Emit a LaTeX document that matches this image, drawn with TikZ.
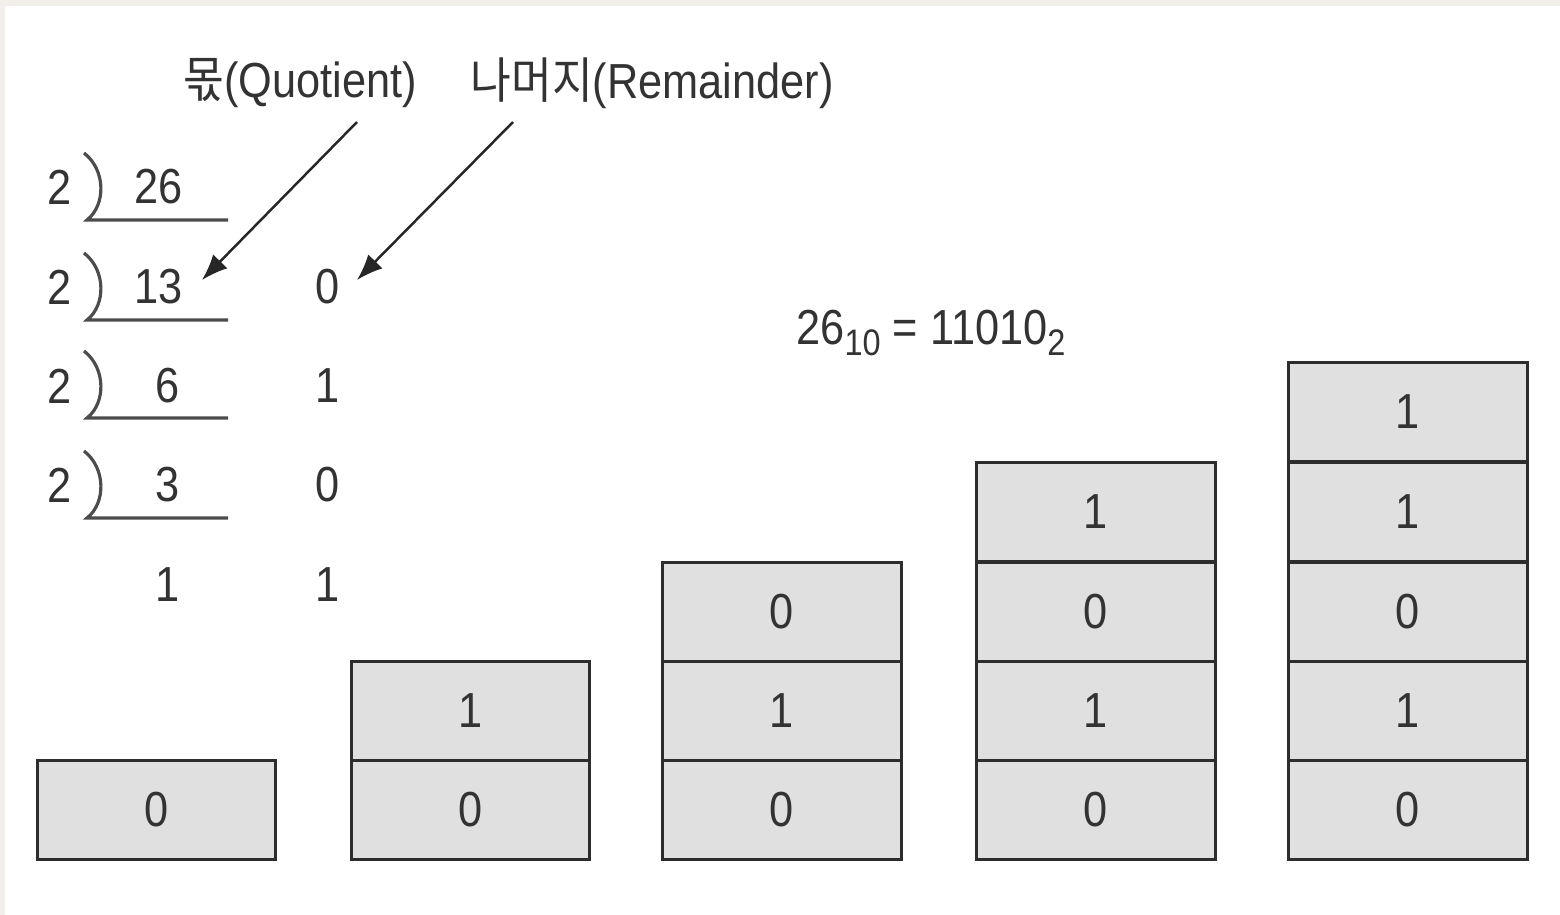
\documentclass[tikz,border=0pt]{standalone}
\usepackage{fontspec}
\setmainfont[FakeStretch=0.88]{Liberation Sans}
\newfontfamily\kr[FakeStretch=0.9]{Noto Sans CJK KR}
\usetikzlibrary{arrows.meta}
\definecolor{cellgray}{RGB}{224,224,224}
\definecolor{edgeline}{RGB}{45,45,45}
\definecolor{paper}{RGB}{242,238,233}
\newcommand{\lowidx}[1]{\raisebox{-0.45ex}{\fontsize{10.5}{12}\selectfont #1}}
\tikzset{
  txt/.style={font=\fontsize{14}{16}\selectfont, inner sep=0pt, text=black!80},
  cell/.style={draw=edgeline, fill=cellgray, line width=0.8pt, minimum width=2.385cm,
    minimum height=0.995cm, inner sep=0pt, font=\fontsize{14}{16}\selectfont, text=black!80},
  pointer/.style={-{Latex[length=0.26cm, width=0.2cm]}, line width=0.7pt, black!85},
  bar/.style={line width=0.9pt, black!70}
}
\begin{document}
\begin{tikzpicture}[x=0.01cm, y=-0.01cm]
  \fill[paper] (0,0) rectangle (1560,915);
  \fill[white] (5,6) rectangle (1560,915);
  \useasboundingbox (0,0) rectangle (1560,915);
  % headings
  \node[txt] (quot) at (300,83) {{\kr 몫}(Quotient)};
  \node[txt] (rem) at (652,83) {{\kr 나머지}(Remainder)};
  % division steps
  \node[txt] (d1) at (60,187) {2};
  \node[txt] (d2) at (60,287) {2};
  \node[txt] (d3) at (60,386) {2};
  \node[txt] (d4) at (60,485) {2};
  \node[txt] (q0) at (159,187) {26};
  \node[txt] (q1) at (159,287) {13};
  \node[txt] (q2) at (168,386) {6};
  \node[txt] (q3) at (168,485) {3};
  \node[txt] (q4) at (168,585) {1};
  \node[txt] (r1) at (328,287) {0};
  \node[txt] (r2) at (328,386) {1};
  \node[txt] (r3) at (328,485) {0};
  \node[txt] (r4) at (328,585) {1};
  \begin{scope}[bar]
    \draw (84,153) .. controls (106,170) and (106,205) .. (87,220) -- (228,220);
    \draw (84,253) .. controls (106,270) and (106,305) .. (87,320) -- (228,320);
    \draw (84,351) .. controls (106,368) and (106,403) .. (87,418) -- (228,418);
    \draw (84,451) .. controls (106,468) and (106,503) .. (87,518) -- (228,518);
  \end{scope}
  % arrows
  \coordinate (qa) at (357,122);
  \coordinate (ra) at (513,122);
  \coordinate (qt) at (202,280);
  \coordinate (rt) at (357,280);
  \draw[pointer] (qa) -- (qt);
  \draw[pointer] (ra) -- (rt);
  % result
  \node[txt] (res) at (931,333) {26\lowidx{10} = 11010\lowidx{2}};
  % stacks
  \node[cell] (a1) at (156.5,810) {0};
  \node[cell] (b1) at (470.5,810) {0};
  \node[cell] (b2) at (470.5,711) {1};
  \node[cell] (c1) at (782,810) {0};
  \node[cell] (c2) at (782,711) {1};
  \node[cell] (c3) at (782,612) {0};
  \node[cell] (e1) at (1096,810) {0};
  \node[cell] (e2) at (1096,711) {1};
  \node[cell] (e3) at (1096,612) {0};
  \node[cell] (e4) at (1096,512) {1};
  \node[cell] (f1) at (1408,810) {0};
  \node[cell] (f2) at (1408,711) {1};
  \node[cell] (f3) at (1408,612) {0};
  \node[cell] (f4) at (1408,512) {1};
  \node[cell] (f5) at (1408,412) {1};
\end{tikzpicture}
\end{document}
